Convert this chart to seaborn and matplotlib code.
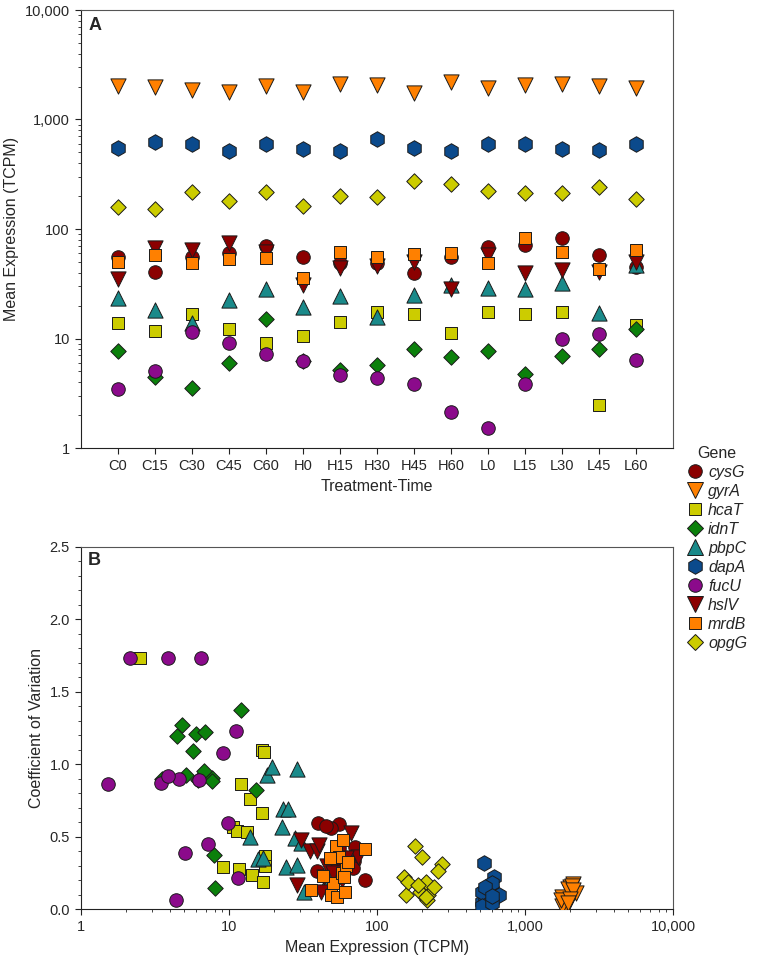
import numpy as np
import pandas as pd
import matplotlib
matplotlib.use("Agg")
import matplotlib.pyplot as plt
import seaborn as sns
from matplotlib.ticker import FuncFormatter, LogLocator, MultipleLocator
from matplotlib.lines import Line2D

times = ['C0', 'C15', 'C30', 'C45', 'C60', 'H0', 'H15', 'H30', 'H45', 'H60',
         'L0', 'L15', 'L30', 'L45', 'L60']
genes = ['cysG', 'gyrA', 'hcaT', 'idnT', 'pbpC', 'dapA', 'fucU', 'hslV', 'mrdB', 'opgG']

# mean expression (TCPM) per treatment-time
cysG_mean = [55.7, 40.1, 55.7, 59.8, 69.8, 55.7, 49.1, 49.1, 39.3, 55.7, 68.8, 71.3, 83.2, 57.7, 45.1]
gyrA_mean = [2024, 1982, 1862, 1784, 2024, 1784, 2109, 2066, 1746, 2203, 1940, 2066, 2109, 2024, 1940]
hcaT_mean = [13.9, 11.7, 16.7, 12.1, 9.1, 10.6, 14.2, 17.5, 16.9, 11.3, 17.5, 16.7, 17.3, 2.49, 13.2]
idnT_mean = [7.66, 4.46, 3.54, 5.98, 15.2, 6.2, 5.13, 5.7, 8.1, 6.79, 7.66, 4.79, 6.89, 7.98, 12.1]
pbpC_mean = [23.2, 18.2, 13.8, 22.7, 28.1, 19.5, 24.4, 15.8, 24.9, 30.7, 29.0, 28.6, 32.2, 17.1, 46.8]
dapA_mean = [549, 622, 597, 515, 597, 537, 515, 664, 549, 515, 597, 597, 537, 526, 597]
fucU_mean = [3.49, 5.06, 11.5, 9.12, 7.18, 6.24, 4.62, 4.4, 3.88, 2.13, 1.52, 3.88, 9.86, 11.1, 6.42]
hslV_mean = [35.3, 66.9, 64.1, 73.9, 62.0, 30.7, 43.6, 45.8, 50.1, 28.6, 57.7, 39.3, 42.1, 40.4, 50.1]
mrdB_mean = [50.1, 57.7, 49.1, 53.1, 53.9, 35.8, 61.9, 55.7, 59.0, 59.8, 48.5, 82.6, 61.1, 43.0, 64.1]
opgG_mean = [158, 152, 217, 180, 217, 162, 200, 196, 274, 257, 222, 213, 213, 242, 188]

# coefficient of variation per treatment-time
cysG_cv = [0.584, 0.595, 0.38, 0.36, 0.33, 0.30, 0.557, 0.33, 0.26, 0.42, 0.28, 0.425, 0.20, 0.27, 0.572]
gyrA_cv = [0.12, 0.05, 0.03, 0.02, 0.15, 0.08, 0.17, 0.10, 0.06, 0.11, 0.14, 0.16, 0.13, 0.07, 0.04]
hcaT_cv = [0.763, 0.276, 0.66, 0.862, 0.288, 0.563, 0.234, 0.366, 0.188, 0.54, 0.30, 1.10, 1.085, 1.73, 0.533]
idnT_cv = [0.908, 1.193, 0.90, 1.211, 0.821, 0.89, 0.924, 1.092, 0.143, 0.954, 0.885, 1.274, 1.219, 0.372, 1.377]
pbpC_cv = [0.688, 0.924, 0.494, 0.568, 0.487, 0.98, 0.292, 0.343, 0.694, 0.453, 0.303, 0.966, 0.12, 0.35, 0.20]
dapA_cv = [0.10, 0.22, 0.06, 0.05, 0.13, 0.08, 0.12, 0.10, 0.03, 0.02, 0.18, 0.04, 0.15, 0.32, 0.09]
fucU_cv = [0.867, 0.388, 0.212, 1.08, 0.446, 0.894, 0.901, 0.06, 1.73, 1.73, 0.862, 0.917, 0.595, 1.23, 1.73]
hslV_cv = [0.40, 0.526, 0.30, 0.357, 0.35, 0.476, 0.22, 0.30, 0.15, 0.166, 0.20, 0.40, 0.12, 0.44, 0.25]
mrdB_cv = [0.18, 0.246, 0.10, 0.434, 0.08, 0.131, 0.30, 0.357, 0.476, 0.219, 0.35, 0.414, 0.12, 0.23, 0.326]
opgG_cv = [0.10, 0.223, 0.06, 0.434, 0.14, 0.188, 0.357, 0.12, 0.31, 0.262, 0.10, 0.188, 0.08, 0.154, 0.166]

means = {'cysG': cysG_mean, 'gyrA': gyrA_mean, 'hcaT': hcaT_mean, 'idnT': idnT_mean,
         'pbpC': pbpC_mean, 'dapA': dapA_mean, 'fucU': fucU_mean, 'hslV': hslV_mean,
         'mrdB': mrdB_mean, 'opgG': opgG_mean}
cvs = {'cysG': cysG_cv, 'gyrA': gyrA_cv, 'hcaT': hcaT_cv, 'idnT': idnT_cv,
       'pbpC': pbpC_cv, 'dapA': dapA_cv, 'fucU': fucU_cv, 'hslV': hslV_cv,
       'mrdB': mrdB_cv, 'opgG': opgG_cv}

colors = {'cysG': '#8b0000', 'gyrA': '#ff8000', 'hcaT': '#cccc00', 'idnT': '#0b800b',
          'pbpC': '#1a8a8a', 'dapA': '#0b4a8c', 'fucU': '#8b0a8b', 'hslV': '#8b0000',
          'mrdB': '#ff8000', 'opgG': '#cccc00'}
markers = {'cysG': 'o', 'gyrA': 'v', 'hcaT': 's', 'idnT': 'D', 'pbpC': '^',
           'dapA': 'h', 'fucU': 'o', 'hslV': 'v', 'mrdB': 's', 'opgG': 'D'}
sizes = {'o': 95, 'v': 120, 's': 80, 'D': 62, '^': 120, 'h': 125}

rows = []
for g in genes:
    for t, m, c in zip(times, means[g], cvs[g]):
        rows.append({'gene': g, 'time': t, 'mean': m, 'cv': c})
df = pd.DataFrame(rows)

sns.set_style("ticks")
plt.rcParams['font.family'] = ['Liberation Sans', 'DejaVu Sans']
plt.rcParams['xtick.labelsize'] = 10.5
plt.rcParams['ytick.labelsize'] = 10.5

fig = plt.figure(figsize=(7.66, 9.72), dpi=100)
W, H = 766, 972
ax1 = fig.add_axes([81 / W, 1 - 448 / H, 592 / W, 438 / H])
ax2 = fig.add_axes([81 / W, 1 - 909 / H, 592 / W, 362 / H])

for g in genes:
    sub = df[df.gene == g]
    mk = markers[g]
    sns.scatterplot(data=sub, x='time', y='mean', marker=mk, color=colors[g], s=sizes[mk],
                    edgecolor='#1a1a1a', linewidth=0.7, ax=ax1, legend=False, zorder=3)
    sns.scatterplot(data=sub, x='mean', y='cv', marker=mk, color=colors[g], s=sizes[mk],
                    edgecolor='#1a1a1a', linewidth=0.7, ax=ax2, legend=False, zorder=3)

fmt = FuncFormatter(lambda v, p: f'{v:,.0f}')

# panel A
ax1.set_yscale('log')
ax1.set_ylim(1, 10000)
ax1.set_xlim(-1, 15)
ax1.yaxis.set_major_formatter(fmt)
ax1.yaxis.set_minor_locator(LogLocator(base=10, subs=np.arange(2, 10)))
ax1.set_xlabel('Treatment-Time', fontsize=11.5)
ax1.set_ylabel('Mean Expression (TCPM)', fontsize=11.5)
ax1.text(0.012, 0.985, 'A', transform=ax1.transAxes, fontsize=13, fontweight='bold',
         va='top', ha='left')

# panel B
ax2.set_xscale('log')
ax2.set_xlim(1, 10000)
ax2.set_ylim(0, 2.5)
ax2.xaxis.set_major_formatter(fmt)
ax2.xaxis.set_minor_locator(LogLocator(base=10, subs=np.arange(2, 10)))
ax2.yaxis.set_major_locator(MultipleLocator(0.5))
ax2.yaxis.set_minor_locator(MultipleLocator(0.1))
ax2.yaxis.set_major_formatter(FuncFormatter(lambda v, p: f'{v:.1f}'))
ax2.set_xlabel('Mean Expression (TCPM)', fontsize=11.5)
ax2.set_ylabel('Coefficient of Variation', fontsize=11.5)
ax2.text(0.012, 0.985, 'B', transform=ax2.transAxes, fontsize=13, fontweight='bold',
         va='top', ha='left')

for ax in (ax1, ax2):
    for side in ('top', 'right'):
        ax.spines[side].set_visible(True)
        ax.spines[side].set_color('#555555')
    for side in ('left', 'bottom'):
        ax.spines[side].set_color('#222222')
    ax.tick_params(which='major', length=4.5, width=0.8, color='#222222')
    ax.tick_params(which='minor', length=2.5, width=0.6, color='#222222')
    ax.tick_params(top=False, right=False, which='both')

handles = []
for g in genes:
    mk = markers[g]
    handles.append(Line2D([], [], linestyle='none', marker=mk, markersize=np.sqrt(sizes[mk]),
                          markerfacecolor=colors[g], markeredgecolor='#1a1a1a',
                          markeredgewidth=0.7, label=g))
leg = fig.legend(handles=handles, title='Gene', loc='upper left',
                 bbox_to_anchor=(0.887, 0.548), frameon=False, fontsize=11.5,
                 title_fontsize=11.5, handletextpad=0.2, labelspacing=0.25,
                 borderaxespad=0, handlelength=1.2)
for txt in leg.get_texts():
    txt.set_fontstyle('italic')

fig.savefig('out.png', dpi=100)
